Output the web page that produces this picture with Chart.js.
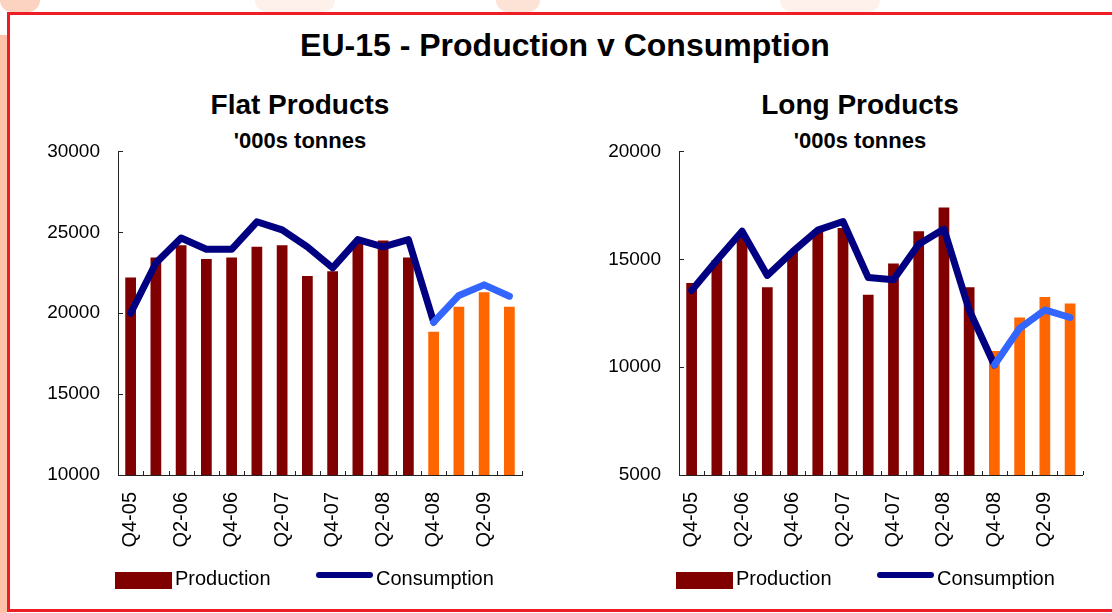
<!DOCTYPE html>
<html>
<head>
<meta charset="utf-8">
<title>EU-15 - Production v Consumption</title>
<script src="https://cdn.jsdelivr.net/npm/chart.js@4.4.1/dist/chart.umd.min.js"></script>
<style>
  html, body { margin: 0; padding: 0; }
  body { width: 1112px; height: 613px; position: relative; overflow: hidden; background: #fff;
         font-family: "Liberation Sans", Arial, sans-serif; color: #000; }
  .strip { position: absolute; left: 0; top: 35px; width: 7px; height: 578px; background: #fcc3aa; }
  .blob { position: absolute; top: 0; height: 12px; border-radius: 0 0 30px 30px; background: #fef0ea; }
  .frame { position: absolute; left: 7px; top: 12px; width: 1200px; height: 600px;
           border: 3px solid #ee1d25; box-sizing: border-box; }
  h1 { position: absolute; left: 0; width: 1130px; top: 29px; margin: 0; text-align: center;
       font-size: 32px; line-height: 32px; font-weight: bold; }
  h2, h3 { position: absolute; width: 400px; margin: 0; text-align: center; font-weight: bold; }
  h2 { top: 91px; font-size: 28px; line-height: 28px; }
  h3 { top: 130px; font-size: 22px; line-height: 22px; }
  .flat { left: 100px; }
  .long { left: 660px; }
  canvas { position: absolute; top: 122px; }
  #flat { left: 20px; }
  #long { left: 581px; }
</style>
</head>
<body>
<div class="blob" style="left:0;width:40px;background:#fcd2c0"></div>
<div class="blob" style="left:255px;width:80px"></div>
<div class="blob" style="left:496px;width:44px;background:#fde3d6"></div>
<div class="blob" style="left:780px;width:100px"></div>
<div class="strip"></div>
<div class="frame"></div>
<h1>EU-15 - Production v Consumption</h1>
<h2 class="flat">Flat Products</h2>
<h3 class="flat">'000s tonnes</h3>
<h2 class="long">Long Products</h2>
<h3 class="long">'000s tonnes</h3>
<canvas id="flat" width="540" height="490"></canvas>
<canvas id="long" width="531" height="490"></canvas>
<script>
const quarters = ['Q4-05', 'Q1-06', 'Q2-06', 'Q3-06', 'Q4-06', 'Q1-07', 'Q2-07', 'Q3-07',
                  'Q4-07', 'Q1-08', 'Q2-08', 'Q3-08', 'Q4-08', 'Q1-09', 'Q2-09', 'Q3-09'];

// '000s tonnes
const flatProduction  = [22200, 23450, 24200, 23350, 23450, 24100, 24200, 22300,
                         22600, 24450, 24500, 23450, 18850, 20400, 21300, 20400];
const flatConsumption = [20000, 23100, 24650, 23950, 23950, 25650, 25150, 24100,
                         22800, 24550, 24100, 24550, 19450, 21100, 21750, 21050];
const longProduction  = [13900, 14950, 16050, 13700, 15350, 16350, 16450, 13350,
                         14800, 16300, 17400, 13700, 10750, 12300, 13250, 12950];
const longConsumption = [13550, 14950, 16300, 14250, 15350, 16350, 16750, 14150,
                         14050, 15700, 16400, 12650, 10100, 11800, 12650, 12300];

const flatAxis = [10000, 30000, 5000];   // min, max, step
const longAxis = [5000, 20000, 5000];

const forecastFrom = 12;   // Q4-08 onwards drawn in the lighter colours

const MAROON = '#800000';
const ORANGE = '#ff6600';
const NAVY = '#000080';
const BLUE = '#3366ff';
const AXIS = '#222';

Chart.defaults.font.family = '"Liberation Sans", Arial, sans-serif';
Chart.defaults.color = '#000';

// tick marks pointing into the plot, like the original
const innerTicks = {
  id: 'innerTicks',
  afterDraw(chart) {
    const { ctx, chartArea: a, scales: { x, y } } = chart;
    ctx.save();
    ctx.strokeStyle = AXIS;
    ctx.lineWidth = 1;
    ctx.beginPath();
    y.ticks.forEach(t => {
      const py = Math.round(y.getPixelForValue(t.value)) + 0.5;
      ctx.moveTo(a.left, py);
      ctx.lineTo(a.left + 5, py);
    });
    for (let i = 1; i <= quarters.length; i++) {
      const px = i < quarters.length
        ? (x.getPixelForTick(i - 1) + x.getPixelForTick(i)) / 2
        : a.right;
      ctx.moveTo(Math.round(px) + 0.5, a.bottom);
      ctx.lineTo(Math.round(px) + 0.5, a.bottom - 4);
    }
    ctx.stroke();
    ctx.restore();
  }
};

// legend under the axis labels
const key = {
  id: 'key',
  afterDraw(chart) {
    const { ctx, chartArea: a } = chart;
    const [line, bar] = chart.data.datasets;
    const top = a.bottom + 97;
    ctx.save();
    ctx.fillStyle = MAROON;
    ctx.fillRect(a.left - 3, top, 57, 17);
    ctx.strokeStyle = NAVY;
    ctx.lineWidth = 6;
    ctx.lineCap = 'round';
    ctx.beginPath();
    ctx.moveTo(a.left + 201, top + 3);
    ctx.lineTo(a.left + 252, top + 3);
    ctx.stroke();
    ctx.fillStyle = '#000';
    ctx.font = '20px "Liberation Sans", Arial, sans-serif';
    ctx.textBaseline = 'middle';
    ctx.fillText(bar.label, a.left + 57, top + 7);
    ctx.fillText(line.label, a.left + 258, top + 7);
    ctx.restore();
  }
};

function makeChart(id, production, consumption, axis, padRight) {
  return new Chart(document.getElementById(id), {
    data: {
      labels: quarters,
      datasets: [
        {
          type: 'line',
          label: 'Consumption',
          data: consumption,
          order: 0,
          borderColor: NAVY,
          borderWidth: 7,
          borderCapStyle: 'round',
          borderJoinStyle: 'round',
          pointRadius: 0,
          segment: {
            borderColor: c => c.p0DataIndex >= forecastFrom ? BLUE : NAVY
          }
        },
        {
          type: 'bar',
          label: 'Production',
          data: production,
          order: 1,
          backgroundColor: c => c.dataIndex >= forecastFrom ? ORANGE : MAROON,
          barPercentage: 0.85,
          categoryPercentage: 0.5
        }
      ]
    },
    options: {
      responsive: false,
      animation: false,
      devicePixelRatio: 1,
      layout: { padding: { left: 0, right: padRight, top: 12, bottom: 47 } },
      plugins: {
        legend: { display: false },
        tooltip: { enabled: false }
      },
      scales: {
        x: {
          grid: { display: false, drawTicks: false },
          border: { color: AXIS },
          ticks: {
            autoSkip: false,
            minRotation: 90,
            maxRotation: 90,
            padding: 17,
            font: { size: 20 },
            callback: (v, i) => i % 2 === 0 ? quarters[i] : ''
          },
          afterFit: s => { s.height = 90; }
        },
        y: {
          min: axis[0],
          max: axis[1],
          grid: { display: false, drawTicks: false },
          border: { color: AXIS },
          ticks: { stepSize: axis[2], padding: 18, font: { size: 19 }, callback: v => String(v) },
          afterFit: s => { s.width = 98; }
        }
      }
    },
    plugins: [innerTicks, key]
  });
}

makeChart('flat', flatProduction, flatConsumption, flatAxis, 38);
makeChart('long', longProduction, longConsumption, longAxis, 29);
</script>
</body>
</html>
